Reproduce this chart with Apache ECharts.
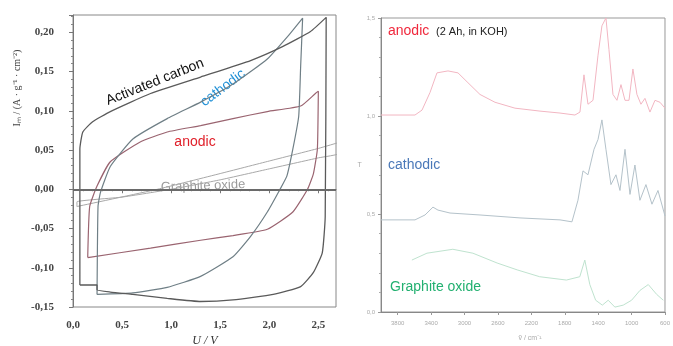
<!DOCTYPE html>
<html>
<head>
<meta charset="utf-8">
<script src="https://cdn.jsdelivr.net/npm/echarts@6/dist/echarts.min.js"></script>
<style>
  html,body{margin:0;padding:0;background:#fff}
  #chart{width:673px;height:346px}
</style>
</head>
<body>
<div id="chart"></div>
<script>
// ---- left panel: cyclic voltammograms (U / V, I / A g-1 cm-2)
const acU   = [0.07, 0.07, 0.10, 0.20, 0.38, 0.79, 1.30, 1.81, 2.14, 2.42, 2.58, 2.57, 2.54, 2.45, 2.32, 2.04, 1.63, 1.30, 0.96, 0.61, 0.38, 0.245, 0.245, 0.07]
const acI   = [-0.122, 0.051, 0.073, 0.086, 0.099, 0.122, 0.143, 0.164, 0.182, 0.201, 0.219, -0.035, -0.081, -0.106, -0.124, -0.134, -0.141, -0.143, -0.139, -0.134, -0.131, -0.128, -0.122, -0.122]
const cathU = [0.245, 0.255, 0.28, 0.38, 0.61, 0.96, 1.30, 1.63, 1.98, 2.21, 2.34, 2.32, 2.30, 2.24, 2.18, 2.11, 1.98, 1.81, 1.63, 1.30, 0.96, 0.61, 0.245]
const cathI = [-0.134, -0.022, -0.004, 0.029, 0.064, 0.090, 0.111, 0.134, 0.166, 0.198, 0.218, 0.157, 0.093, 0.051, 0.017, 0.0, -0.029, -0.060, -0.086, -0.111, -0.125, -0.132, -0.134]
const anU   = [0.15, 0.17, 0.245, 0.38, 0.68, 0.96, 1.30, 1.63, 1.98, 2.32, 2.47, 2.50, 2.49, 2.45, 2.39, 2.24, 1.98, 1.63, 1.30, 0.79, 0.15]
const anI   = [-0.087, -0.022, 0.004, 0.035, 0.060, 0.073, 0.081, 0.090, 0.099, 0.106, 0.122, 0.125, 0.051, 0.020, 0.0, -0.029, -0.051, -0.059, -0.065, -0.075, -0.087]
const goU   = [0.04, 0.86, 1.5, 2.0, 2.5, 2.72, 2.72, 2.5, 2.0, 1.5, 1.0, 0.5, 0.04, 0.04]
const goI   = [-0.022, 0.0, 0.020, 0.036, 0.052, 0.060, 0.046, 0.040, 0.026, 0.012, 0.0, -0.010, -0.016, -0.022]
const uTicks = [0, 0.5, 1.0, 1.5, 2.0, 2.5]

// ---- right panel: IR spectra (wavenumber / cm-1, T)
const anodWn  = [4000, 3593, 3509, 3413, 3330, 3198, 3078, 2959, 2815, 2635, 2396, 2097, 1857, 1678, 1618, 1570, 1522, 1462, 1402, 1355, 1307, 1271, 1223, 1175, 1127, 1079, 1031, 984, 936, 888, 840, 780, 720, 660, 600]
const anodT   = [1.005, 1.005, 1.03, 1.12, 1.22, 1.23, 1.22, 1.17, 1.11, 1.07, 1.04, 1.025, 1.015, 1.005, 1.02, 1.21, 1.06, 1.08, 1.31, 1.46, 1.5, 1.34, 1.11, 1.08, 1.16, 1.08, 1.08, 1.24, 1.11, 1.06, 1.09, 1.02, 1.08, 1.07, 1.04]
const cathWn  = [4000, 3593, 3473, 3378, 3318, 3174, 2815, 2336, 1857, 1714, 1642, 1582, 1522, 1450, 1402, 1355, 1307, 1247, 1187, 1139, 1079, 1019, 960, 900, 828, 756, 684, 600]
const cathT   = [0.47, 0.47, 0.495, 0.535, 0.52, 0.505, 0.495, 0.48, 0.47, 0.46, 0.57, 0.72, 0.70, 0.83, 0.88, 0.98, 0.83, 0.65, 0.70, 0.62, 0.83, 0.60, 0.75, 0.57, 0.65, 0.55, 0.62, 0.49]
const goWn    = [3630, 3450, 3140, 2900, 2610, 2370, 2100, 1780, 1620, 1560, 1500, 1430, 1350, 1280, 1200, 1100, 1000, 900, 800, 700, 620]
const goT     = [0.265, 0.30, 0.32, 0.30, 0.25, 0.215, 0.18, 0.163, 0.18, 0.265, 0.14, 0.06, 0.035, 0.06, 0.025, 0.035, 0.06, 0.11, 0.14, 0.09, 0.06]
const wnTicks = [3800, 3400, 3000, 2600, 2200, 1800, 1400, 1000, 600]

const zip = (a, b) => a.map((v, i) => [v, b[i]])
const comma = d => v => v.toFixed(d).replace('.', ',')

var myChart = echarts.init(document.getElementById('chart'), null, {renderer: 'canvas'})

const serifLbl = {fontFamily: 'Liberation Serif', fontWeight: 'bold', fontSize: 11, color: '#444'}
const tinyLbl = {fontFamily: 'Liberation Sans', fontSize: 6, color: '#aaa'}

function loop(name, u, i, color, width) {
  return {
    name: name, type: 'line', data: zip(u, i), xAxisIndex: 0, yAxisIndex: 0,
    showSymbol: false, silent: true, smooth: 0.15,
    lineStyle: {color: color, width: width}
  }
}
function spectrum(name, wn, t, color) {
  return {
    name: name, type: 'line', data: zip(wn, t), xAxisIndex: 1, yAxisIndex: 1,
    showSymbol: false, silent: true,
    lineStyle: {color: color, width: 1}
  }
}

var option = {
  backgroundColor: '#fff',
  animation: false,
  grid: [
    {left: 73, top: 15, width: 263, height: 292, show: true, borderColor: '#888', borderWidth: 1},
    {left: 381, top: 18, width: 284, height: 294, show: true, borderColor: '#999', borderWidth: 1}
  ],
  xAxis: [
    {
      gridIndex: 0, type: 'value', min: 0, max: 2.68,
      axisLine: {lineStyle: {color: '#777'}},
      axisTick: {customValues: uTicks, length: 4, lineStyle: {color: '#777'}},
      minorTick: {show: true, splitNumber: 5, length: 2, lineStyle: {color: '#888'}},
      axisLabel: {customValues: uTicks, formatter: comma(1), margin: 13, ...serifLbl},
      splitLine: {show: false}
    },
    {
      gridIndex: 1, type: 'value', min: 600, max: 4000, inverse: true,
      axisLine: {lineStyle: {color: '#888'}},
      axisTick: {customValues: wnTicks, length: 3, lineStyle: {color: '#999'}},
      axisLabel: {customValues: wnTicks, formatter: v => String(v), margin: 8, ...tinyLbl},
      splitLine: {show: false}
    }
  ],
  yAxis: [
    {
      gridIndex: 0, type: 'value', min: -0.15, max: 0.222, interval: 0.05,
      axisLine: {show: true, lineStyle: {color: '#777'}},
      axisTick: {show: true, length: 4, lineStyle: {color: '#777'}},
      minorTick: {show: true, splitNumber: 5, length: 2, lineStyle: {color: '#888'}},
      axisLabel: {formatter: comma(2), margin: 19, showMaxLabel: false, ...serifLbl},
      splitLine: {show: false}
    },
    {
      gridIndex: 1, type: 'value', min: 0, max: 1.5, interval: 0.5,
      name: 'T', nameLocation: 'middle', nameGap: 18, nameRotate: 0,
      nameTextStyle: {fontFamily: 'Liberation Sans', fontSize: 7, color: '#aaa'},
      axisLine: {show: true, lineStyle: {color: '#888'}},
      axisTick: {show: true, length: 3, lineStyle: {color: '#999'}},
      minorTick: {show: true, splitNumber: 5, length: 2, lineStyle: {color: '#aaa'}},
      axisLabel: {formatter: comma(1), margin: 6, ...tinyLbl},
      splitLine: {show: false}
    }
  ],
  series: [
    loop('Graphite oxide', goU, goI, '#a8a8a8', 1),
    loop('anodic', anU, anI, '#9a6470', 1.2),
    loop('cathodic', cathU, cathI, '#6f7f86', 1.2),
    Object.assign(loop('Activated carbon', acU, acI, '#5a5a5a', 1.3), {
      markLine: {
        silent: true, symbol: 'none', label: {show: false},
        lineStyle: {color: '#6a6a6a', width: 2, type: 'solid'},
        data: [{yAxis: 0}]
      }
    }),
    spectrum('Graphite oxide', goWn, goT, '#bfe3cf'),
    spectrum('cathodic', cathWn, cathT, '#b4c2ca'),
    spectrum('anodic', anodWn, anodT, '#f2b6c2')
  ],
  graphic: [
    {type: 'text', x: 155, y: 82, rotation: 22 * Math.PI / 180,
      style: {text: 'Activated carbon', fill: '#111', font: '14px "Liberation Sans"', align: 'center', verticalAlign: 'middle'}},
    {type: 'text', x: 223, y: 88, rotation: 37 * Math.PI / 180,
      style: {text: 'cathodic', fill: '#1e8fd6', font: '14px "Liberation Sans"', align: 'center', verticalAlign: 'middle'}},
    {type: 'text', x: 195, y: 142,
      style: {text: 'anodic', fill: '#e0202a', font: '14px "Liberation Sans"', align: 'center', verticalAlign: 'middle'}},
    {type: 'text', x: 203, y: 186, rotation: 2 * Math.PI / 180,
      style: {text: 'Graphite oxide', fill: '#9a9a9a', font: '13px "Liberation Sans"', align: 'center', verticalAlign: 'middle'}},
    {type: 'text', x: 17, y: 88, rotation: Math.PI / 2,
      style: {text: 'Iₘ / (A · g⁻¹ · cm⁻²)', fill: '#444', font: '10px "Liberation Serif"', align: 'center', verticalAlign: 'middle'}},
    {type: 'text', x: 205, y: 341,
      style: {text: 'U / V', fill: '#333', font: 'italic 12px "Liberation Serif"', align: 'center', verticalAlign: 'middle'}},
    {type: 'text', x: 388, y: 31,
      style: {text: 'anodic', fill: '#f0283c', font: '14px "Liberation Sans"', align: 'left', verticalAlign: 'middle'}},
    {type: 'text', x: 436, y: 32,
      style: {text: '(2 Ah, in KOH)', fill: '#222', font: '11px "Liberation Sans"', align: 'left', verticalAlign: 'middle'}},
    {type: 'text', x: 388, y: 165,
      style: {text: 'cathodic', fill: '#4a78b8', font: '14px "Liberation Sans"', align: 'left', verticalAlign: 'middle'}},
    {type: 'text', x: 390, y: 287,
      style: {text: 'Graphite oxide', fill: '#22b070', font: '14px "Liberation Sans"', align: 'left', verticalAlign: 'middle'}},
    {type: 'text', x: 530, y: 338,
      style: {text: 'ṽ / cm⁻¹', fill: '#aaa', font: '7px "Liberation Sans"', align: 'center', verticalAlign: 'middle'}}
  ]
}
myChart.setOption(option)
</script>
</body>
</html>
